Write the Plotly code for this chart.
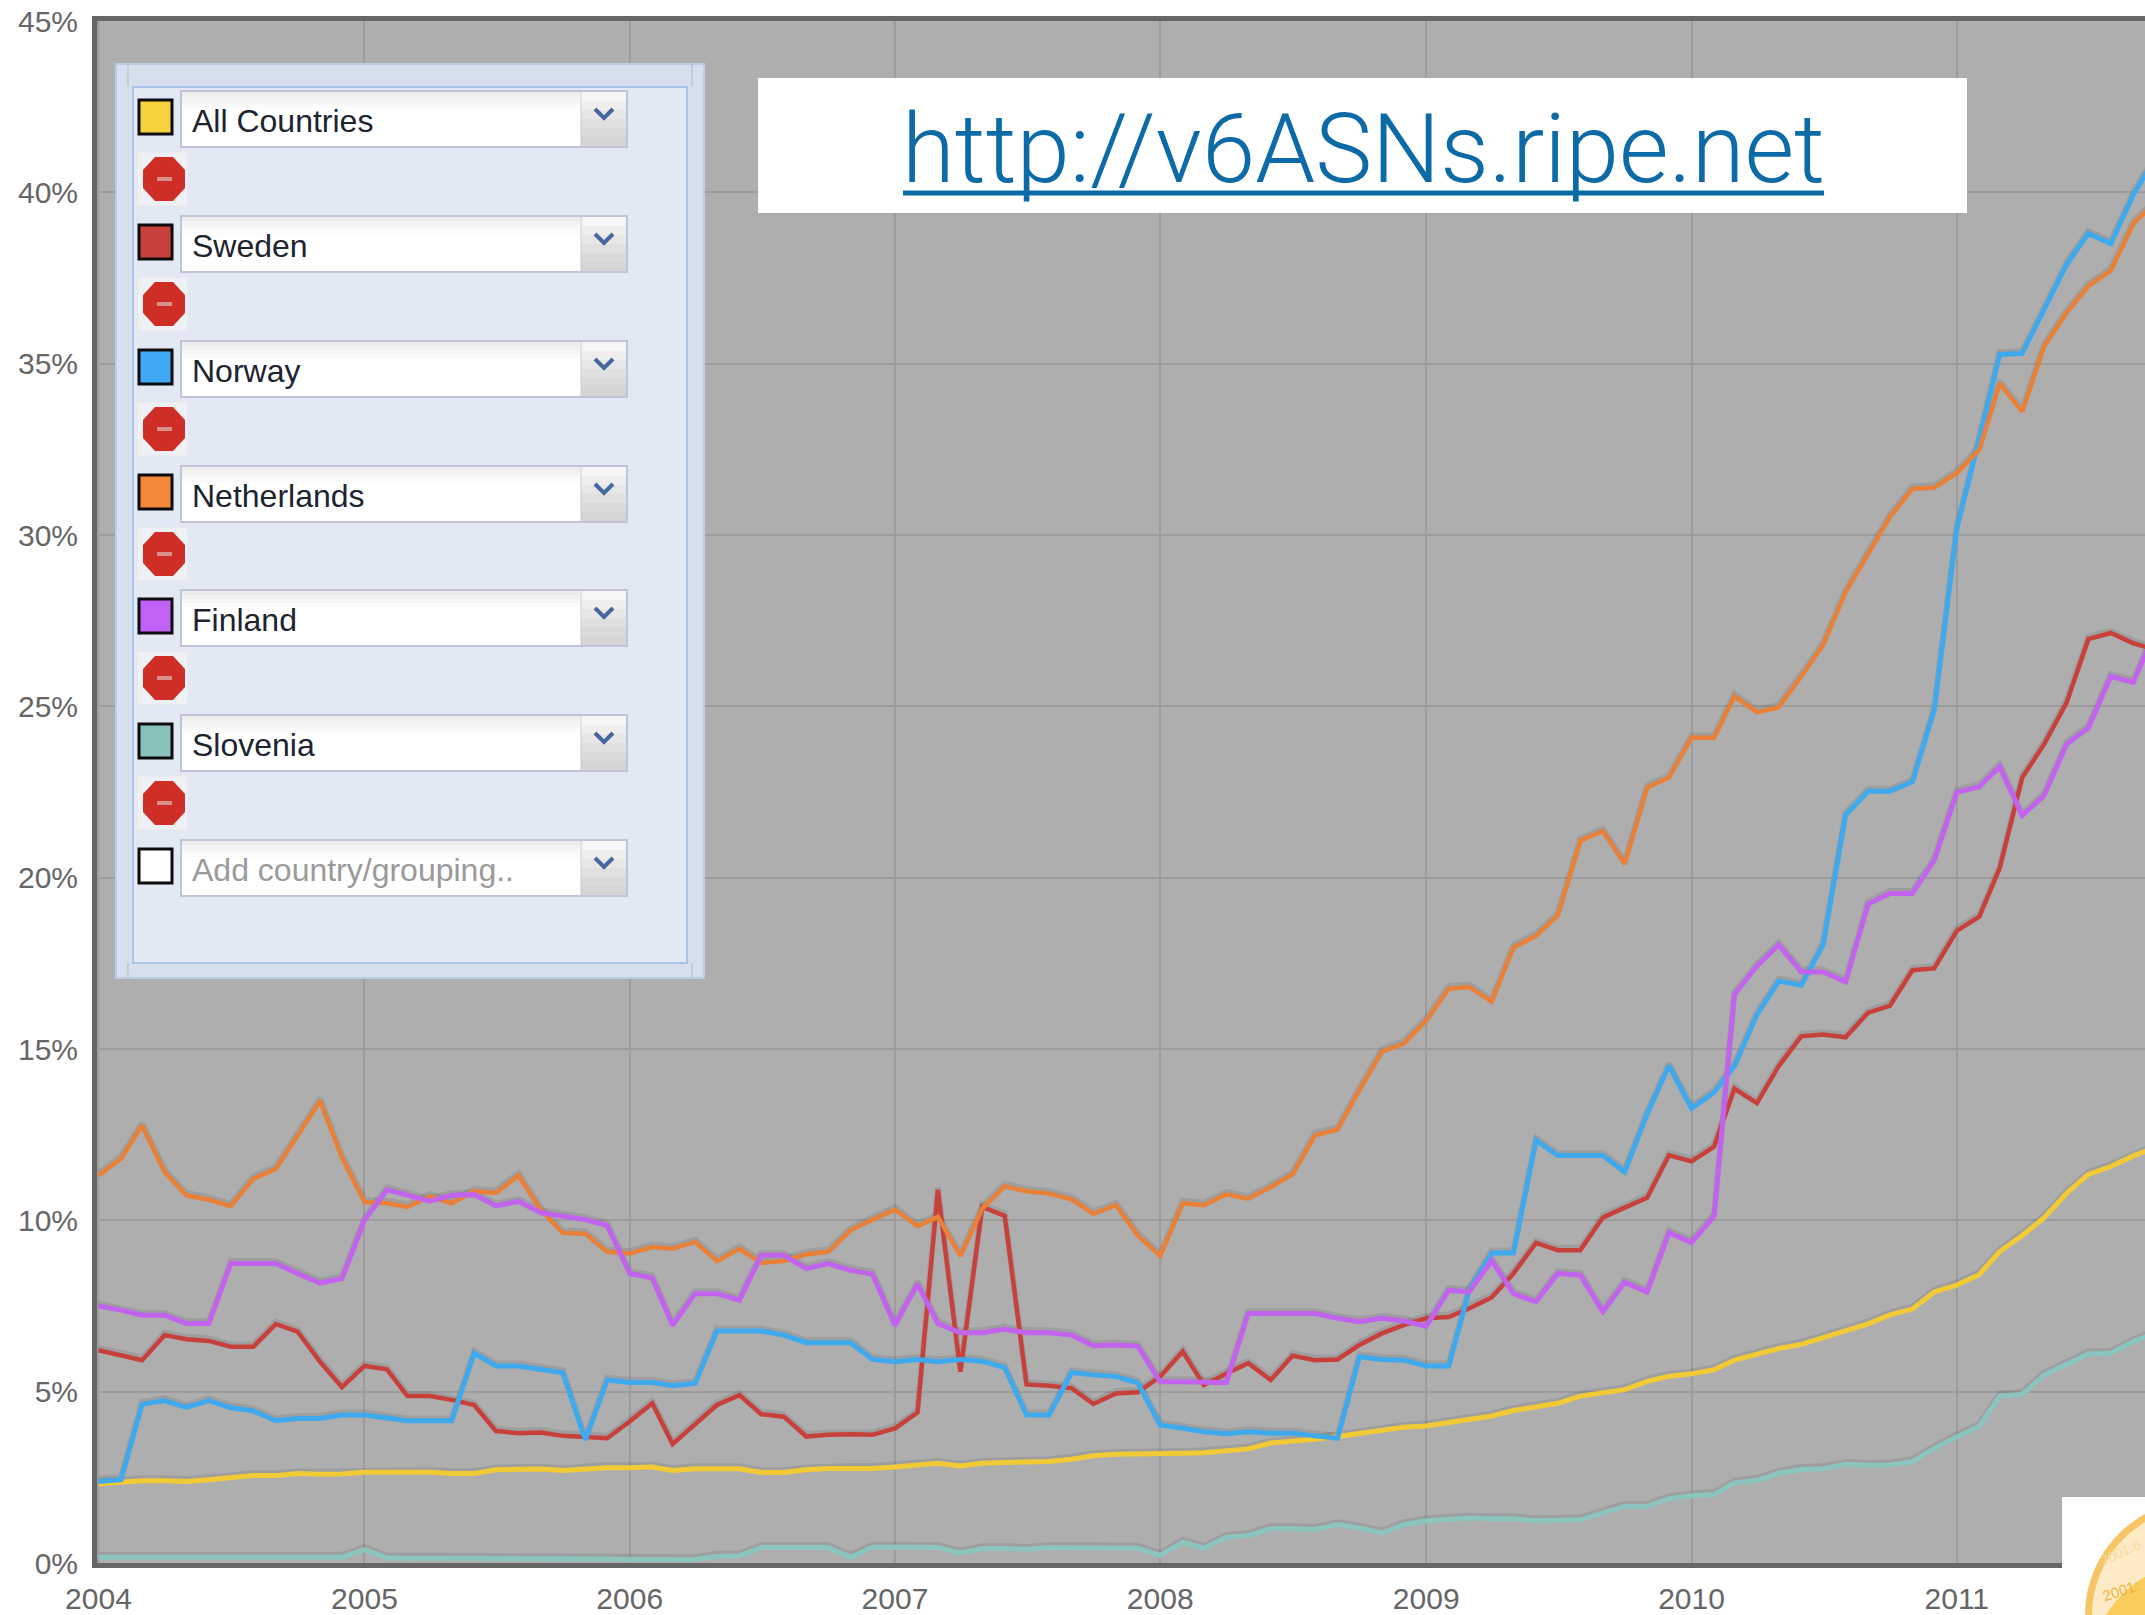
import plotly.graph_objects as go

# ---------- data (percent of ASNs, monthly from Jan 2004) ----------
months = [f"{y}-{m:02d}-01" for y in range(2004, 2012) for m in range(1, 13)][:94]

all_countries = [2.31,2.36,2.40,2.40,2.38,2.43,2.48,2.55,2.55,2.61,2.59,2.60,
 2.65,2.65,2.65,2.65,2.61,2.61,2.72,2.74,2.74,2.70,2.75,2.78,
 2.78,2.80,2.70,2.75,2.75,2.75,2.64,2.64,2.72,2.76,2.76,2.76,
 2.80,2.84,2.91,2.83,2.91,2.93,2.93,2.96,3.03,3.13,3.17,3.17,
 3.17,3.20,3.22,3.28,3.33,3.50,3.54,3.61,3.69,3.79,3.88,3.96,
 4.00,4.10,4.20,4.29,4.45,4.56,4.66,4.87,4.98,5.06,5.30,5.45,
 5.52,5.64,5.92,6.10,6.26,6.38,6.57,6.75,6.98,7.24,7.41,7.91,
 8.11,8.42,9.09,9.56,10.07,10.79,11.34,11.57,11.88,12.13]

sweden = [6.21,6.07,5.92,6.65,6.53,6.48,6.31,6.31,6.97,6.75,5.87,5.13,
 5.75,5.65,4.87,4.87,4.76,4.61,3.85,3.79,3.81,3.71,3.69,3.64,
 4.13,4.66,3.47,4.03,4.61,4.90,4.34,4.27,3.69,3.74,3.76,3.74,
 3.93,4.39,10.89,5.58,10.39,10.13,5.21,5.17,5.10,4.64,4.95,4.98,
 5.44,6.17,5.19,5.53,5.83,5.34,6.05,5.92,5.94,6.36,6.70,6.94,
 7.14,7.18,7.43,7.75,8.45,9.34,9.13,9.13,10.08,10.37,10.66,11.90,
 11.72,12.15,13.84,13.42,14.50,15.37,15.42,15.34,16.06,16.26,17.30,17.35,
 18.45,18.86,20.27,22.92,23.89,25.10,26.96,27.14,26.84,26.65]

norway = [2.38,2.43,4.63,4.74,4.54,4.74,4.53,4.44,4.15,4.22,4.22,4.32,
 4.32,4.24,4.15,4.15,4.15,6.12,5.75,5.75,5.65,5.55,3.59,5.34,
 5.27,5.27,5.17,5.24,6.77,6.77,6.77,6.65,6.43,6.43,6.43,5.94,
 5.87,5.94,5.87,5.94,5.89,5.70,4.32,4.32,5.56,5.49,5.44,5.26,
 4.03,3.93,3.83,3.77,3.83,3.79,3.79,3.71,3.64,6.02,5.94,5.92,
 5.75,5.75,7.96,9.05,9.05,12.33,11.89,11.89,11.89,11.41,13.11,14.51,
 13.27,13.73,14.50,16.00,16.98,16.86,18.04,21.83,22.52,22.52,22.80,24.90,
 30.20,32.82,35.27,35.30,36.54,37.89,38.80,38.50,39.94,41.00]

netherlands = [11.31,11.80,12.77,11.41,10.73,10.60,10.41,11.21,11.50,12.48,13.48,11.84,
 10.53,10.50,10.39,10.70,10.50,10.85,10.80,11.31,10.29,9.63,9.61,9.08,
 9.03,9.22,9.17,9.37,8.81,9.17,8.76,8.81,9.01,9.08,9.71,10.02,
 10.31,9.83,10.10,8.96,10.34,10.99,10.85,10.78,10.61,10.19,10.44,9.56,
 8.96,10.50,10.44,10.76,10.63,10.97,11.34,12.48,12.65,13.80,14.92,15.16,
 15.83,16.76,16.81,16.38,17.96,18.30,18.90,21.07,21.36,20.40,22.63,22.92,
 24.08,24.08,25.29,24.83,24.97,25.87,26.79,28.33,29.48,30.53,31.35,31.38,
 31.81,32.49,34.42,33.60,35.50,36.48,37.26,37.72,39.09,39.70]

finland = [7.50,7.38,7.23,7.23,6.99,6.99,8.74,8.74,8.74,8.45,8.17,8.30,
 10.00,10.89,10.73,10.56,10.73,10.75,10.42,10.55,10.22,10.13,10.02,9.85,
 8.45,8.32,6.94,7.86,7.86,7.67,8.98,8.98,8.59,8.74,8.54,8.43,
 6.94,8.14,6.99,6.72,6.72,6.82,6.72,6.72,6.65,6.34,6.36,6.33,
 5.29,5.29,5.29,5.26,7.28,7.28,7.28,7.28,7.14,7.04,7.14,7.06,
 6.91,7.96,7.91,8.83,7.86,7.62,8.45,8.40,7.33,8.19,7.91,9.64,
 9.35,10.12,16.59,17.42,18.04,17.25,17.25,16.96,19.23,19.54,19.54,20.51,
 22.49,22.65,23.24,21.81,22.39,23.89,24.37,25.87,25.70,27.20]

slovenia = [0.17,0.17,0.17,0.17,0.17,0.17,0.17,0.17,0.17,0.17,0.17,0.17,
 0.39,0.15,0.14,0.14,0.14,0.14,0.14,0.14,0.14,0.13,0.13,0.12,
 0.10,0.10,0.10,0.10,0.19,0.21,0.45,0.45,0.43,0.45,0.17,0.46,
 0.46,0.46,0.45,0.29,0.42,0.42,0.40,0.45,0.45,0.44,0.45,0.43,
 0.22,0.61,0.43,0.75,0.80,1.00,1.00,0.98,1.12,1.02,0.87,1.12,
 1.23,1.29,1.31,1.29,1.29,1.23,1.26,1.26,1.46,1.65,1.65,1.88,
 1.96,2.00,2.34,2.41,2.62,2.73,2.75,2.88,2.85,2.86,2.96,3.34,
 3.68,3.99,4.87,4.92,5.48,5.79,6.10,6.12,6.46,6.72]

series_names = ["All Countries", "Sweden", "Norway", "Netherlands", "Finland", "Slovenia"]
series_values = [all_countries, sweden, norway, netherlands, finland, slovenia]
line_colors = ["#f2ca35", "#c8403b", "#3fa9ee", "#e98038", "#c263ee", "#8cc4bf"]
swatch_colors = ["#f6d33c", "#c8403c", "#3fa9f5", "#f28a3a", "#c261f5", "#88c2bb"]

y_ticks = [0, 5, 10, 15, 20, 25, 30, 35, 40, 45]
y_tick_labels = ["0%", "5%", "10%", "15%", "20%", "25%", "30%", "35%", "40%", "45%"]
x_tick_dates = [f"{y}-01-01" for y in range(2004, 2012)]
x_tick_labels = [str(y) for y in range(2004, 2012)]
add_placeholder = "Add country/grouping.."
url_text = "http://v6ASNs.ripe.net"

# ---------- page geometry ----------
W, H = 2145, 1615
L, T, R, B = 97, 21, 0, 52
PW, PH = W - L - R, H - T - B
def px(x): return (x - L) / PW
def py(y): return (H - B - y) / PH

shapes, notes = [], []
def rect(x0, y0, x1, y1, fill, line=None, lw=1, radius=None):
    shapes.append(dict(type="rect", xref="paper", yref="paper", layer="above",
                       x0=px(x0), x1=px(x1), y0=py(y1), y1=py(y0), fillcolor=fill,
                       line=dict(color=line or fill, width=lw if line else 0)))
def poly(pts, fill=None, line=None, lw=0, closed=True):
    d = "M" + " L".join(f"{px(a):.5f},{py(b):.5f}" for a, b in pts) + (" Z" if closed else "")
    shapes.append(dict(type="path", xref="paper", yref="paper", layer="above", path=d,
                       fillcolor=fill or "rgba(0,0,0,0)",
                       line=dict(color=line or "rgba(0,0,0,0)", width=lw)))
def circle(cx, cy, r, fill, line=None, lw=0):
    shapes.append(dict(type="circle", xref="paper", yref="paper", layer="above",
                       x0=px(cx - r), x1=px(cx + r), y0=py(cy + r), y1=py(cy - r), fillcolor=fill,
                       line=dict(color=line or "rgba(0,0,0,0)", width=lw)))
def text(x, y, s, size, color, family="Liberation Sans", anchor="left", weight=None, angle=0):
    f = dict(size=size, color=color, family=family)
    if weight: f["weight"] = weight
    notes.append(dict(xref="paper", yref="paper", x=px(x), y=py(y), text=s, showarrow=False,
                      xanchor=anchor, yanchor="middle", font=f, textangle=angle,
                      borderpad=0, borderwidth=0))

# legend panel
rect(116, 64, 704, 978, "#d6e0ec", "#b9cde8", 2)
rect(133, 87, 687, 963, "#e2e8f4", "#a9c5ea", 2)
poly([(128, 64), (128, 86)], line="#aeb9c6", lw=1, closed=False)
poly([(692, 64), (692, 86)], line="#aeb9c6", lw=1, closed=False)
poly([(128, 963), (128, 978)], line="#aeb9c6", lw=1, closed=False)
poly([(692, 963), (692, 978)], line="#aeb9c6", lw=1, closed=False)

def row(cy, label, swatch, label_color="#1c2430", stop=True):
    # colour box
    rect(139, cy - 19, 172, cy + 15, swatch, "#0c0c0c", 3)
    # combo box
    rect(181, cy - 28, 627, cy + 28, "#ffffff", "#c3c3d8", 2)
    for k, shade in enumerate(["#ededed", "#f2f2f2", "#f6f6f6", "#fafafa"]):
        rect(182, cy - 27 + 4 * k, 580, cy - 23 + 4 * k, shade)
    for k, shade in enumerate(["#f6f6f6", "#eeeeee", "#e7e7e7", "#e0e0e0", "#dadada", "#d5d5d5"]):
        rect(581, cy - 27 + 9 * k, 626, cy - 18 + 9 * k, shade)
    poly([(581, cy - 27), (581, cy + 27)], line="#c9c9d4", lw=1, closed=False)
    poly([(595, cy - 10), (604, cy - 1), (613, cy - 10)], line="#46689f", lw=4, closed=False)
    text(192, cy + 2, label, 32, label_color)
    if stop:
        c = cy + 60
        rect(137, c - 27, 188, c + 27, "#eef0f4", "#e4e6ea", 1)
        o, k = 22, 9
        poly([(164 - k, c - o), (164 + k, c - o), (164 + o - 1, c - k), (164 + o - 1, c + k),
              (164 + k, c + o), (164 - k, c + o), (164 - o + 1, c + k), (164 - o + 1, c - k)], fill="#cf2e27")
        rect(157, c - 2, 172, c + 2, "#d98f8a")

row_centers = [119, 244, 369, 494, 618, 743]
for cy, name, col in zip(row_centers, series_names, swatch_colors):
    row(cy, name, col)
row(868, add_placeholder, "#ffffff", label_color="#9a9a9a", stop=False)

# URL box
rect(758, 78, 1967, 213, "#ffffff")
text(1363, 149, url_text, 96, "#0c6aa6", family="Roboto", anchor="center", weight=300)
poly([(903, 193), (1824, 193)], line="#0c6aa6", lw=5, closed=False)

# corner logo
rect(2062, 1497, 2145, 1615, "#ffffff")
circle(2200, 1615, 115, "#f8c566")
circle(2200, 1615, 108, "#fdebc6")
circle(2200, 1672, 110, "#f9cd5c")
text(2100, 1590, "2001:", 15, "#f3b13c", angle=-18)
text(2098, 1552, "2001:6", 14, "#f6d9a0", angle=-25)

# ---------- traces ----------
fig = go.Figure()
# primary axis carries ticks and grid
fig.add_trace(go.Scatter(x=months, y=all_countries, mode="lines", xaxis="x", yaxis="y", showlegend=False,
                         hoverinfo="skip", line=dict(color="rgba(0,0,0,0)", width=0)))
# soft drop shadow, same values on a slightly offset axis
for vals in series_values:
    fig.add_trace(go.Scatter(x=months, y=vals, mode="lines", xaxis="x", yaxis="y2", showlegend=False,
                             hoverinfo="skip", line=dict(color="rgba(0,0,0,0.09)", width=6)))
widths = [5, 4.5, 5, 4.5, 5, 5]
for name, vals, col, w in zip(series_names, series_values, line_colors, widths):
    fig.add_trace(go.Scatter(x=months, y=vals, name=name, mode="lines", xaxis="x", yaxis="y3",
                             showlegend=False, line=dict(color=col, width=w)))

GRID = "#9c9c9c"
fig.update_layout(
    width=W, height=H, autosize=False,
    margin=dict(l=L, r=R, t=T, b=B, pad=0),
    paper_bgcolor="#ffffff", plot_bgcolor="#aeaeae",
    showlegend=False, shapes=shapes, annotations=notes,
    font=dict(family="Liberation Sans", color="#666666", size=30),
    xaxis=dict(type="date", range=["2003-12-30", "2011-09-17"], tickmode="array",
               tickvals=x_tick_dates, ticktext=x_tick_labels,
               showgrid=True, gridcolor=GRID, gridwidth=1.5, zeroline=False, ticks="",
               showline=True, linecolor="#666666", linewidth=5, mirror=True, ticklabelstandoff=5,
               tickfont=dict(size=30, color="#666666")),
    yaxis=dict(range=[0, 45], tickmode="array", tickvals=y_ticks, ticktext=y_tick_labels,
               showgrid=True, gridcolor=GRID, gridwidth=1.5, ticklabelstandoff=8,
               zeroline=False, ticks="", showline=True, linecolor="#666666", linewidth=5,
               tickfont=dict(size=30, color="#666666")),
    yaxis2=dict(range=[-0.07, 44.93], overlaying="y", visible=False),
    yaxis3=dict(range=[0, 45], overlaying="y", visible=False),
)
fig.write_html("out.html", config=dict(displayModeBar=False),
               post_script="document.body.style.margin='0';document.body.style.overflow='hidden';")
